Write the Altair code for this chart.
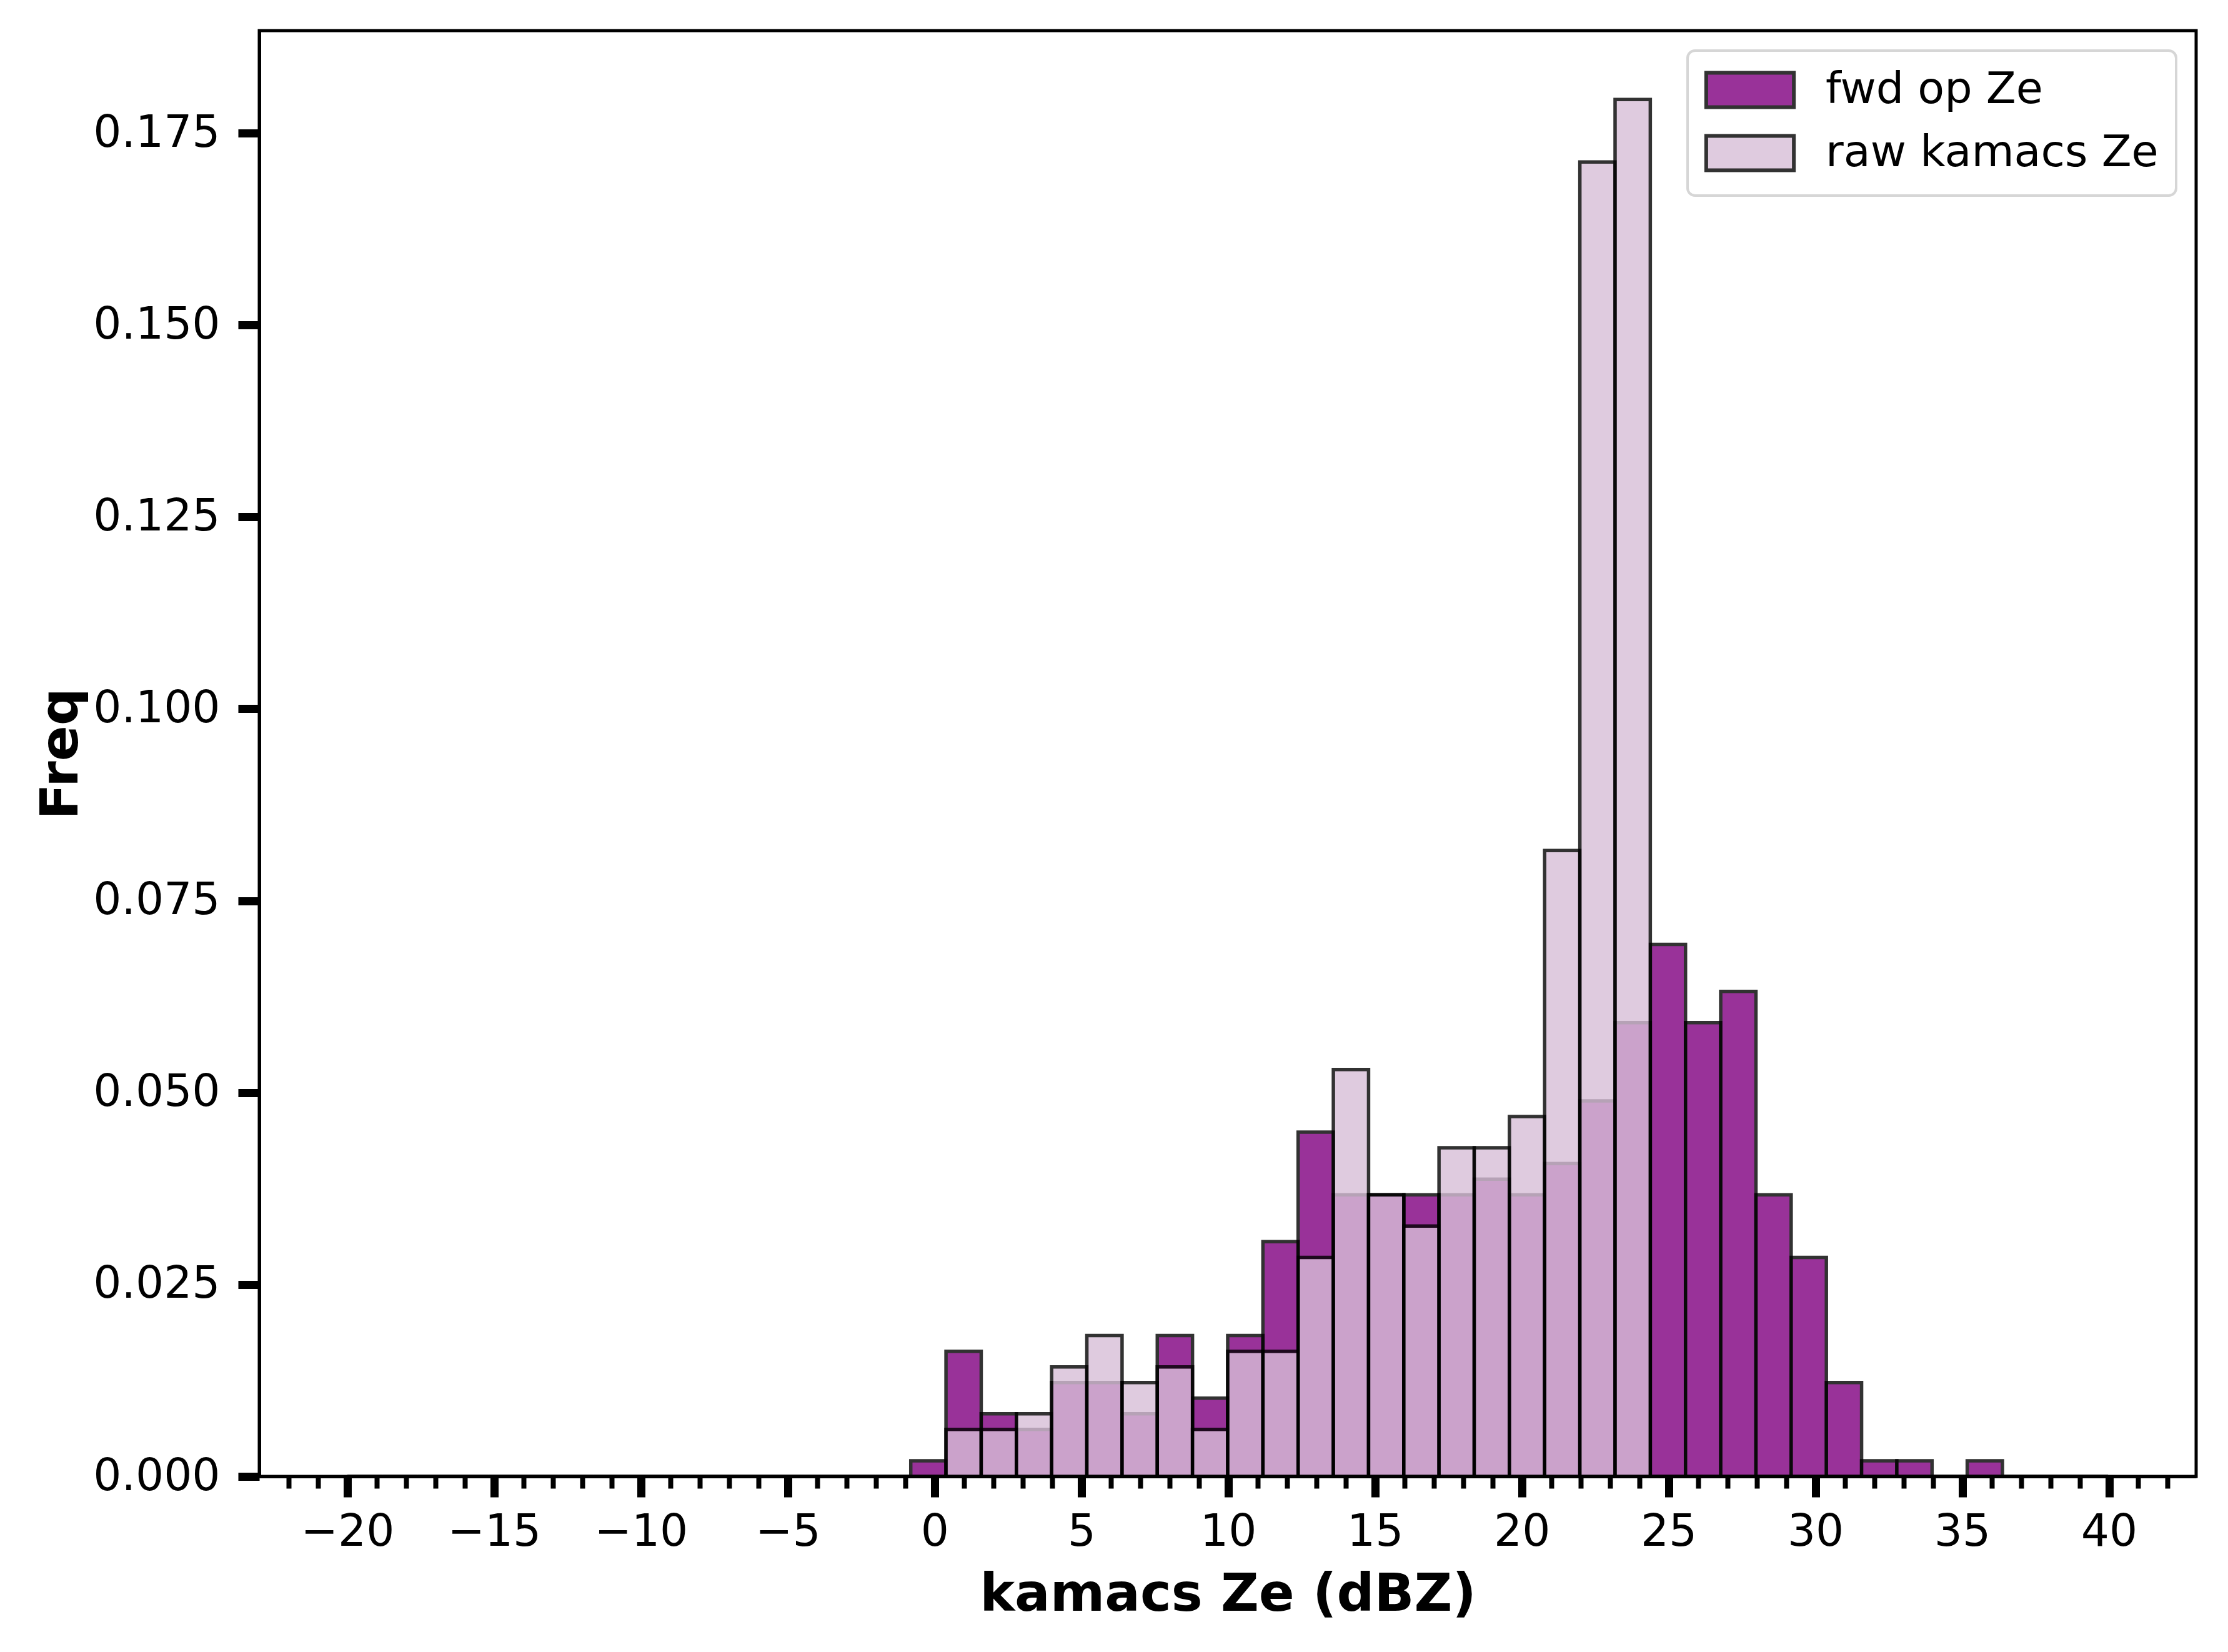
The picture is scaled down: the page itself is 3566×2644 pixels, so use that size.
import altair as alt
import pandas as pd

# ---- data ----
series_names = ["fwd op Ze", "raw kamacs Ze"]
series_colors = ["purple", "thistle"]

bin_lo = -20.0          # first bin edge
bin_width = 1.1994      # bin width
n_bins = 50
n_samples = 409         # samples per series (density normalisation)

# counts per bin (50 bins)
fwd_counts = [0] * 16 + [1, 8, 4, 3, 6, 6, 4, 9, 5, 9, 15, 22, 18, 18, 18, 18,
                         19, 18, 20, 24, 29, 34, 29, 31, 18, 14, 6, 1, 1, 0, 1] + [0] * 3
raw_counts = [0] * 16 + [0, 3, 3, 4, 7, 9, 6, 7, 3, 8, 8, 14, 26, 18, 16, 21,
                         21, 23, 40, 84, 88] + [0] * 13

x_major = [-20, -15, -10, -5, 0, 5, 10, 15, 20, 25, 30, 35, 40]
x_minor = list(range(-23, 43))
y_ticks = [0.0, 0.025, 0.05, 0.075, 0.1, 0.125, 0.15, 0.175]

# ---- build table ----
rows = []
for name, counts in zip(series_names, [fwd_counts, raw_counts]):
    for i, c in enumerate(counts):
        rows.append({
            "series": name,
            "left": bin_lo + i * bin_width,
            "right": bin_lo + (i + 1) * bin_width,
            "freq": c / (n_samples * bin_width),
        })
df = pd.DataFrame(rows)

bin_hi = bin_lo + n_bins * bin_width
span = bin_hi - bin_lo
x_dom = [bin_lo - 0.05 * span, bin_hi + 0.05 * span]
y_dom = [0, 1.05 * df["freq"].max()]

xscale = alt.Scale(domain=x_dom, nice=False, zero=False)
yscale = alt.Scale(domain=y_dom, nice=False, zero=True)

color = alt.Color(
    "series:N",
    scale=alt.Scale(domain=series_names, range=series_colors),
    legend=alt.Legend(
        title=None,
        orient="top-right",
        offset=32,
        padding=28,
        fillColor="white",
        strokeColor="#d6d6d6",
        cornerRadius=12,
        labelFont="DejaVu Sans",
        labelFontSize=70,
        labelColor="black",
        labelLimit=2000,
        labelOffset=86,
        symbolOffset=37,
        rowPadding=21,
        symbolType="M-2.55,-1H2.55V1H-2.55Z",
        symbolSize=3025,
        symbolStrokeColor="black",
        symbolStrokeWidth=6,
        symbolOpacity=0.8,
    ),
)

major_axis = alt.Axis(
    values=x_major, format="d", title="kamacs Ze (dBZ)",
    labelFont="DejaVu Sans", labelFontSize=71, labelColor="black",
    labelPadding=21, labelLimit=1000, tickSize=33, tickWidth=13, tickColor="black",
    domainColor="black", domainWidth=5, grid=False, labelFlush=False,
    labelOverlap=False,
    titleFont="DejaVu Sans", titleFontSize=84, titleFontWeight="bold",
    titleColor="black", titlePadding=24, orient="bottom", zindex=2,
)
minor_axis = alt.Axis(
    values=x_minor, labels=False, title="", tickSize=19, tickWidth=8,
    tickColor="black", domain=False, grid=False, orient="bottom", zindex=2,
)
y_axis = alt.Axis(
    values=y_ticks, format=".3f", title="Freq",
    labelFont="DejaVu Sans", labelFontSize=71, labelColor="black",
    labelPadding=29, labelLimit=1000, tickSize=34, tickWidth=13, tickColor="black",
    domainColor="black", domainWidth=5, grid=False, labelFlush=False,
    labelOverlap=False,
    titleFont="DejaVu Sans", titleFontSize=84, titleFontWeight="bold",
    titleColor="black", titlePadding=74, zindex=2,
)

bar_style = dict(stroke="black", strokeWidth=5.5, opacity=0.8)

fwd = alt.Chart(df[df["series"] == series_names[0]]).mark_rect(**bar_style).encode(
    x=alt.X("left:Q", scale=xscale, axis=major_axis),
    x2="right:Q",
    y=alt.Y("freq:Q", scale=yscale, axis=y_axis),
    y2=alt.datum(0),
    color=color,
)
raw = alt.Chart(df[df["series"] == series_names[1]]).mark_rect(**bar_style).encode(
    x=alt.X("left:Q", scale=xscale, axis=minor_axis),
    x2="right:Q",
    y=alt.Y("freq:Q", scale=yscale, axis=y_axis),
    y2=alt.datum(0),
    color=color,
)

chart = (
    alt.layer(fwd, raw)
    .resolve_scale(x="shared", y="shared")
    .resolve_axis(x="independent")
    .properties(
        width=3100,
        height=2314,
        autosize=alt.AutoSizeParams(type="none"),
        padding={"left": 407, "top": 41, "right": 30, "bottom": 250},
        background="white",
    )
    .configure_view(stroke="black", strokeWidth=5)
    .configure_legend(strokeWidth=4)
)

chart.save("out.html", embed_options={"renderer": "svg", "actions": False})
